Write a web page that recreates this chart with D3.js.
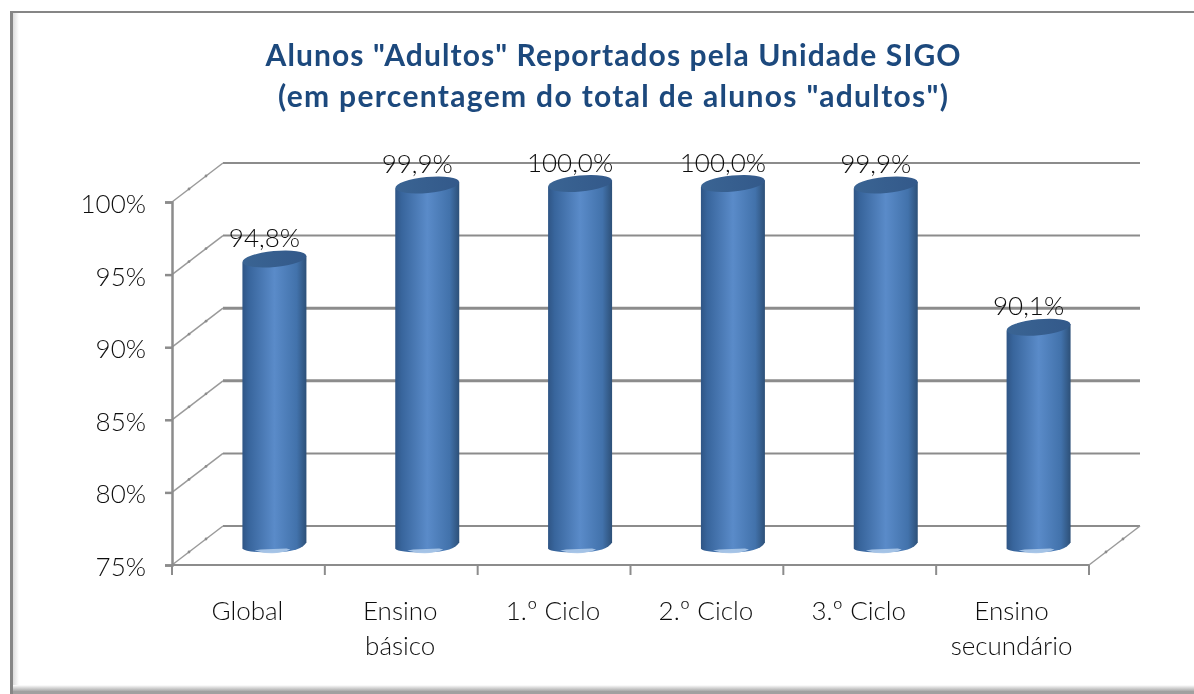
<!DOCTYPE html>
<html><head><meta charset="utf-8">
<script src="https://cdn.jsdelivr.net/npm/d3@7/dist/d3.min.js"></script>
<style>html,body{margin:0;padding:0;background:#fff;overflow:hidden}svg{display:block}text{font-family:Lato,"Open Sans",sans-serif}</style>
</head><body><svg id="c" width="1194" height="694"></svg>
<script>
const categories=[["Global"],["Ensino","básico"],["1.º Ciclo"],["2.º Ciclo"],["3.º Ciclo"],["Ensino","secundário"]];
const values=[94.8,99.9,100.0,100.0,99.9,90.1];
const yTicks=[75,80,85,90,95,100];
const titleLines=['Alunos "Adultos" Reportados pela Unidade SIGO','(em percentagem do total de alunos "adultos")'];

const svg=d3.select("#c");
const defs=svg.append("defs");
const body=defs.append("linearGradient").attr("id","body");
[[0,"#2f5585"],[0.1,"#38659c"],[0.5,"#5a8bc9"],[0.85,"#4272ab"],[1,"#2d5078"]].forEach(s=>body.append("stop").attr("offset",s[0]).attr("stop-color",s[1]));
const cap=defs.append("linearGradient").attr("id","cap");
[[0,"#3a6493"],[1,"#33598a"]].forEach(s=>cap.append("stop").attr("offset",s[0]).attr("stop-color",s[1]));
const vfade=defs.append("linearGradient").attr("id","vfade").attr("x1",0).attr("x2",0).attr("y1",0).attr("y2",1);
[[0,"#ffffff"],[1,"#a9a9a9"]].forEach(s=>vfade.append("stop").attr("offset",s[0]).attr("stop-color",s[1]));
const hfade=defs.append("linearGradient").attr("id","hfade");
[[0,"#dcdcdc"],[1,"#ffffff"]].forEach(s=>hfade.append("stop").attr("offset",s[0]).attr("stop-color",s[1]));
const soft=defs.append("filter").attr("id","soft").attr("x","-5%").attr("y","-20%").attr("width","110%").attr("height","140%");
soft.append("feGaussianBlur").attr("stdDeviation",0.4);

const x=d3.scaleBand().domain(categories.map((d,i)=>i)).range([172,1089]);
const y=d3.scaleLinear().domain([75,100]).range([565,202]);
const depthX=51,depthY=-39;
const gridCol="#8c8c8c",textCol="#111";

// frame: top and left rules, bottom shadow band (open on the right)
svg.append("rect").attr("x",13).attr("y",13).attr("width",6).attr("height",674).attr("fill","url(#hfade)");
svg.append("rect").attr("x",13).attr("y",685).attr("width",1181).attr("height",6).attr("fill","url(#vfade)");
svg.append("rect").attr("x",10).attr("y",11).attr("width",1184).attr("height",2).attr("fill","#868686");
svg.append("rect").attr("x",10).attr("y",11).attr("width",3).attr("height",683).attr("fill","#868686");
svg.append("rect").attr("x",13).attr("y",691).attr("width",1181).attr("height",3).attr("fill","#a0a0a0");

// back wall gridlines and side wall diagonals
const walls=svg.append("g").attr("stroke",gridCol).attr("fill","none");
const diagonal=(x0,y0)=>{
  walls.append("line").attr("x1",x0).attr("x2",x0+depthX).attr("y1",y0).attr("y2",y0+depthY).attr("stroke-width",1.5).attr("stroke","#9a9a9a");
  [1/3,2/3].forEach(f=>walls.append("circle").attr("cx",x0+f*depthX).attr("cy",y0+f*depthY).attr("r",1.4).attr("fill",gridCol).attr("stroke","none"));
};
yTicks.forEach(t=>{
  const w=(t===85||t===90)?3:2;
  walls.append("line").attr("x1",x.range()[0]+depthX).attr("x2",x.range()[1]+depthX).attr("y1",y(t)+depthY).attr("y2",y(t)+depthY).attr("stroke-width",w);
  diagonal(x.range()[0],y(t));
});
diagonal(x.range()[1],y(75));

// axes
const yAxis=d3.axisLeft(y).tickValues(yTicks).tickFormat(d=>d+"%").tickSize(7).tickPadding(19);
const gy=svg.append("g").attr("transform",`translate(${x.range()[0]},0)`).call(yAxis);
gy.select(".domain").attr("stroke",gridCol).attr("stroke-width",2.5);
gy.selectAll(".tick line").attr("stroke",gridCol).attr("stroke-width",2.5);
gy.selectAll("text").attr("font-size",26).attr("font-weight",300).attr("fill",textCol).attr("dy","0.4em").attr("filter","url(#soft)");
const floor=svg.append("g").attr("stroke",gridCol).attr("stroke-width",2);
floor.append("line").attr("x1",x.range()[0]).attr("x2",x.range()[1]).attr("y1",y(75)).attr("y2",y(75));
x.domain().concat([6]).forEach(i=>{
  const px=x.range()[0]+i*x.bandwidth();
  floor.append("line").attr("x1",px).attr("x2",px).attr("y1",y(75)).attr("y2",y(75)+10);
});

// bars
const rx=32,ry=8,tilt=3.2;
const ctr=i=>x(i)+x.bandwidth()/2+26;
const plane=v=>y(v)+depthY/2;
const bars=svg.append("g").selectAll("g").data(values).join("g");
bars.append("path").attr("fill","url(#body)").attr("d",(v,i)=>{
  const c=ctr(i),t=plane(v)+1,b=plane(75);
  return `M${c-rx},${t+tilt}L${c-rx},${b+tilt}Q${c-rx+4},${b+tilt+4} ${c},${b+ry-1}Q${c+rx-4},${b+ry-2} ${c+rx},${b-tilt}L${c+rx},${t-tilt}Z`;
});
bars.append("path").attr("fill","#a9c6e8").attr("opacity",.95).attr("d",(v,i)=>{
  const c=ctr(i),b=plane(75);
  return `M${c-20},${b+ry-3}Q${c},${b+ry+3} ${c+16},${b+ry-4}L${c+12},${b+ry-5}L${c-14},${b+ry-4}Z`;
});
bars.append("ellipse").attr("cx",(v,i)=>ctr(i)).attr("cy",v=>plane(v)+1).attr("rx",rx).attr("ry",ry)
  .attr("transform",(v,i)=>`rotate(-5.5 ${ctr(i)} ${plane(v)+1})`).attr("fill","url(#cap)");
bars.append("text").attr("x",(v,i)=>ctr(i)-10).attr("y",v=>plane(v)-11).attr("text-anchor","middle")
  .attr("font-size",26).attr("font-weight",300).attr("fill",textCol).attr("filter","url(#soft)").text(v=>d3.format(".1f")(v).replace(".",",")+"%");

// category labels
const cat=svg.append("g").selectAll("text").data(categories).join("text")
  .attr("text-anchor","middle").attr("font-size",26).attr("font-weight",300).attr("fill",textCol).attr("filter","url(#soft)");
cat.each(function(lines,i){
  lines.forEach((l,k)=>d3.select(this).append("tspan").attr("x",x(i)+x.bandwidth()/2-1).attr("y",620+k*35).text(l));
});

// title
const titleWidths=[695,670];
svg.append("g").selectAll("text").data(titleLines).join("text")
  .attr("x",613).attr("y",(d,i)=>66+i*41).attr("text-anchor","middle")
  .attr("textLength",(d,i)=>titleWidths[i]).attr("lengthAdjust","spacing")
  .attr("font-size",30).attr("font-weight",700).attr("fill","#1f497d").attr("filter","url(#soft)").text(d=>d);
</script></body></html>
